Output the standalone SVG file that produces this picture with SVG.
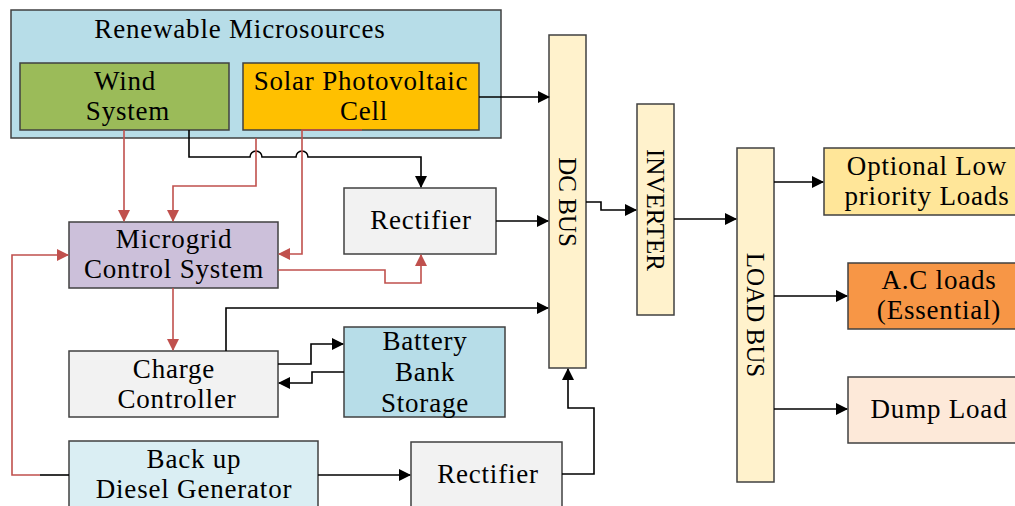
<svg xmlns="http://www.w3.org/2000/svg" width="1015" height="506" viewBox="0 0 1015 506">
<style>
text{font-family:"Liberation Serif","Times New Roman",serif;font-size:27px;letter-spacing:0.8px;fill:#000;text-anchor:middle}
text.v{font-size:25px;letter-spacing:0}
.b{stroke:#404040;stroke-width:1.5}
.k{fill:none;stroke:#000;stroke-width:1.6}
.r{fill:none;stroke:#c0504d;stroke-width:1.6}
</style>
<defs>
<marker id="ak" markerWidth="12" markerHeight="12" refX="11" refY="6" orient="auto" markerUnits="userSpaceOnUse" viewBox="0 0 12 12"><path d="M0,0 L12,6 L0,12 z" fill="#000"/></marker>
<marker id="ar" markerWidth="12" markerHeight="12" refX="11" refY="6" orient="auto" markerUnits="userSpaceOnUse" viewBox="0 0 12 12"><path d="M0,0 L12,6 L0,12 z" fill="#c0504d"/></marker>
</defs>
<g id="renewable"><rect class="b" x="11" y="10" width="490" height="128" fill="#b7dde8"/><text x="240" y="38">Renewable Microsources</text></g>
<g id="wind"><rect class="b" x="20" y="63" width="209" height="67" fill="#9bbb59"/><text x="125" y="90">Wind</text><text x="128" y="120">System</text></g>
<g id="solar"><rect class="b" x="243" y="63" width="236" height="67" fill="#ffc000"/><text x="361" y="90">Solar Photovoltaic</text><text x="364" y="120">Cell</text></g>
<g id="dcbus"><rect class="b" x="549" y="35" width="37" height="333" fill="#fff2cc"/><text class="v" transform="translate(559,202) rotate(90)">DC BUS</text></g>
<g id="inverter"><rect class="b" x="637" y="104" width="37" height="211" fill="#fff2cc"/><text class="v" transform="translate(647,210) rotate(90)">INVERTER</text></g>
<g id="loadbus"><rect class="b" x="737" y="148" width="37" height="334" fill="#fff2cc"/><text class="v" transform="translate(747,315) rotate(90)">LOAD BUS</text></g>
<g id="optional"><rect class="b" x="824" y="148" width="195" height="67" fill="#ffe699"/><text x="927" y="175">Optional Low</text><text x="927" y="205">priority Loads</text></g>
<g id="acloads"><rect class="b" x="848" y="263" width="171" height="66" fill="#f79646"/><text x="939" y="289">A.C loads</text><text x="939" y="319">(Essential)</text></g>
<g id="dump"><rect class="b" x="848" y="377" width="171" height="66" fill="#fde9d9"/><text x="939" y="418">Dump Load</text></g>
<g id="rectifier1"><rect class="b" x="344" y="188" width="152" height="66" fill="#f2f2f2"/><text x="421" y="229">Rectifier</text></g>
<g id="microgrid"><rect class="b" x="69" y="222" width="209" height="66" fill="#ccc0da"/><text x="174" y="248">Microgrid</text><text x="174" y="278">Control System</text></g>
<g id="charge"><rect class="b" x="69" y="351" width="209" height="66" fill="#f2f2f2"/><text x="174" y="378">Charge</text><text x="177" y="408">Controller</text></g>
<g id="battery"><rect class="b" x="344" y="327" width="161" height="90" fill="#b7dde8"/><text x="425" y="350">Battery</text><text x="425" y="381">Bank</text><text x="425" y="412">Storage</text></g>
<g id="diesel"><rect class="b" x="69" y="441" width="249" height="70" fill="#daeef3"/><text x="194" y="468">Back up</text><text x="194" y="498">Diesel Generator</text></g>
<g id="rectifier2"><rect class="b" x="411" y="442" width="151" height="70" fill="#f2f2f2"/><text x="488" y="483">Rectifier</text></g>
<g id="connectors">
<path class="k" d="M479,97 H549" marker-end="url(#ak)"/>
<path class="k" d="M189,130 V157 H250 A6,6 0 0 1 262,157 H296 A6,6 0 0 1 308,157 H421 V187" marker-end="url(#ak)"/>
<path class="r" d="M124,130 V221" marker-end="url(#ar)"/>
<path class="r" d="M256,138 V186 H173 V221" marker-end="url(#ar)"/>
<path class="r" d="M362,130 H302 V254 H279" marker-end="url(#ar)"/>
<path class="r" d="M278,270 H385 V283 H421 V255" marker-end="url(#ar)"/>
<path class="r" d="M173,288 V350" marker-end="url(#ar)"/>
<path class="k" d="M69,475 H40"/>
<path class="r" d="M40,475 H12 V255 H68" marker-end="url(#ar)"/>
<path class="k" d="M226,351 V308 H548" marker-end="url(#ak)"/>
<path class="k" d="M278,364 H311 V344 H343" marker-end="url(#ak)"/>
<path class="k" d="M344,372 H312 V383 H279" marker-end="url(#ak)"/>
<path class="k" d="M318,475 H410" marker-end="url(#ak)"/>
<path class="k" d="M562,474 H594 V408 H568 V369" marker-end="url(#ak)"/>
<path class="k" d="M496,221 H548" marker-end="url(#ak)"/>
<path class="k" d="M586,202 H601 V210 H636" marker-end="url(#ak)"/>
<path class="k" d="M674,219 H736" marker-end="url(#ak)"/>
<path class="k" d="M774,182 H823" marker-end="url(#ak)"/>
<path class="k" d="M774,296 H847" marker-end="url(#ak)"/>
<path class="k" d="M774,409 H847" marker-end="url(#ak)"/>
</g>
</svg>
